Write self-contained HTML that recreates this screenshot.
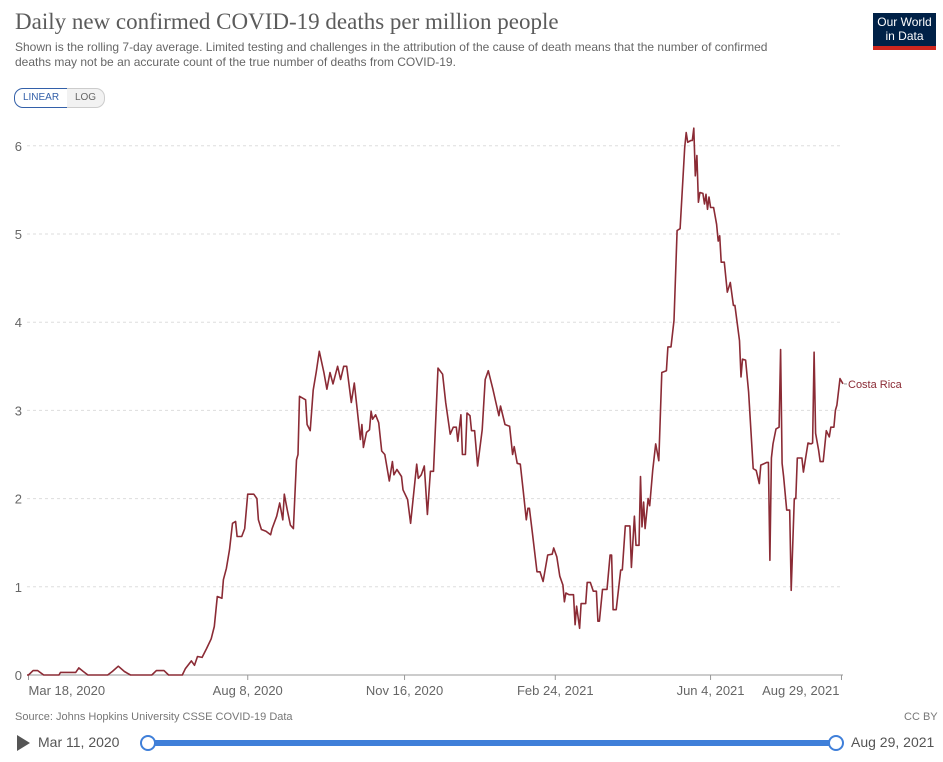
<!DOCTYPE html>
<html><head><meta charset="utf-8">
<style>
body{margin:0;background:#fff;font-family:"Liberation Sans",sans-serif;}
#wrap{position:relative;width:943px;height:762px;overflow:hidden;}
.t{position:absolute;white-space:nowrap;}
</style></head>
<body>
<div id="wrap">
<div class="t" style="left:15px;top:9px;font-family:'Liberation Serif',serif;font-size:23px;color:#5b5b5b;">Daily new confirmed COVID-19 deaths per million people</div>
<div class="t" style="left:15px;top:40px;font-size:12px;line-height:15px;color:#666;white-space:normal;width:790px;">Shown is the rolling 7-day average. Limited testing and challenges in the attribution of the cause of death means that the number of confirmed deaths may not be an accurate count of the true number of deaths from COVID-19.</div>
<div style="position:absolute;left:873px;top:13px;width:63px;height:37px;background:#002147;border-bottom:4px solid #ce261e;color:#fff;font-size:12px;line-height:14px;text-align:center;padding-top:2px;box-sizing:border-box;">Our World<br>in Data</div>
<div style="position:absolute;left:14px;top:88px;width:52px;height:18px;border:1px solid #3360a9;border-radius:9px 0 0 9px;font-size:10px;color:#3360a9;text-align:center;line-height:18px;">LINEAR</div>
<div style="position:absolute;left:67px;top:88px;width:37px;height:18px;border:1px solid #ccc;border-left:none;border-radius:0 9px 9px 0;font-size:10px;color:#666;text-align:center;line-height:18px;background:#f2f2f2;">LOG</div>
<svg id="chart" width="943" height="762" style="position:absolute;left:0;top:0;"></svg>
<div class="t" style="left:15px;top:711px;font-size:11px;color:#777;">Source: Johns Hopkins University CSSE COVID-19 Data</div>
<div class="t" style="left:904px;top:711px;font-size:11px;color:#777;">CC BY</div>
<div style="position:absolute;left:17px;top:735px;width:0;height:0;border-top:8px solid transparent;border-bottom:8px solid transparent;border-left:13px solid #555;"></div>
<div class="t" style="left:38px;top:734px;font-size:14px;color:#555;">Mar 11, 2020</div>
<div style="position:absolute;left:148px;top:740px;width:688px;height:6px;background:#3f7fd9;"></div>
<div style="position:absolute;left:140px;top:735px;width:12px;height:12px;border:2px solid #3f7fd9;border-radius:50%;background:#fff;"></div>
<div style="position:absolute;left:828px;top:735px;width:12px;height:12px;border:2px solid #3f7fd9;border-radius:50%;background:#fff;"></div>
<div class="t" style="left:851px;top:734px;font-size:14px;color:#555;">Aug 29, 2021</div>
</div>
<script>
const days=[0,1,4,7,11,21,22,32,34,37,40,53,56,60,64,68,82,85,90,93,102,104,108,110,112,115,118,121,123,125,128,129,131,133,135,137,138,141,143,145,149,151,152,154,157,160,161,164,166,168,169,171,173,175,177,178,179,183,184,186,188,190,192,195,197,199,201,204,206,208,210,213,215,217,219,220,221,223,225,226,227,229,231,233,235,238,240,241,243,246,247,250,252,256,257,259,261,263,265,267,270,273,275,278,280,282,283,285,286,288,289,291,292,294,296,299,301,303,306,308,310,311,314,317,319,320,322,324,326,328,329,330,332,335,337,339,342,345,346,348,350,352,353,354,356,359,360,361,363,364,367,368,370,372,374,375,376,378,381,383,384,385,387,390,391,393,396,397,399,400,402,403,404,405,406,408,409,411,413,415,417,420,421,423,425,427,429,432,433,434,436,437,438,439,440,441,442,444,445,446,447,448,449,451,453,454,455,456,458,460,462,464,465,468,469,470,472,474,477,479,481,482,486,487,488,489,490,492,494,495,496,497,499,501,502,504,505,506,509,510,513,515,516,517,518,520,521,523,525,527,528,530,531,532,534,536];
const deaths=[0,0,.05,.05,0,0,.03,.03,.08,.04,0,0,.04,.1,.04,0,0,.05,.05,0,0,.07,.16,.11,.21,.2,.3,.41,.55,.89,.87,1.08,1.21,1.42,1.72,1.74,1.57,1.57,1.66,2.05,2.05,2.0,1.76,1.65,1.63,1.59,1.66,1.8,1.95,1.76,2.05,1.87,1.7,1.66,2.44,2.5,3.16,3.12,2.84,2.77,3.23,3.44,3.67,3.43,3.24,3.43,3.3,3.5,3.35,3.5,3.5,3.09,3.31,2.99,2.67,2.84,2.58,2.75,2.78,2.99,2.9,2.95,2.86,2.54,2.5,2.2,2.42,2.27,2.33,2.25,2.1,1.99,1.72,2.39,2.23,2.27,2.37,1.82,2.31,2.31,3.48,3.41,3.09,2.73,2.81,2.81,2.65,2.95,2.5,2.5,2.97,2.94,2.77,2.77,2.37,2.78,3.35,3.45,3.24,3.09,2.94,3.05,2.84,2.82,2.5,2.59,2.4,2.39,2.08,1.76,1.89,1.89,1.61,1.17,1.17,1.06,1.36,1.37,1.44,1.34,1.12,1.02,.83,.93,.91,.91,.57,.78,.53,.81,.81,1.05,1.05,.95,.95,.61,.61,.97,.97,1.36,1.36,.74,.74,1.19,1.19,1.69,1.69,1.22,1.8,1.47,1.47,2.25,1.68,1.96,1.66,2.0,1.92,2.32,2.62,2.43,3.43,3.45,3.72,3.72,4.02,5.04,5.06,5.98,6.15,6.04,6.06,6.06,6.2,5.66,5.89,5.36,5.47,5.46,5.34,5.45,5.28,5.42,5.3,5.3,5.11,4.92,4.98,4.68,4.68,4.34,4.45,4.19,4.19,3.79,3.38,3.58,3.57,3.21,2.34,2.32,2.17,2.38,2.41,2.41,1.3,2.46,2.62,2.79,2.81,3.69,2.4,2.25,1.87,1.87,.96,2.0,2.0,2.46,2.46,2.3,2.63,2.62,2.63,3.66,2.74,2.55,2.42,2.42,2.77,2.7,2.81,2.81,3.0,3.06,3.36,3.3];
const yTicks=[0,1,2,3,4,5,6];
const xTickDays=[1,145,248,347,449,535];
const xTickLabels=["Mar 18, 2020","Aug 8, 2020","Nov 16, 2020","Feb 24, 2021","Jun 4, 2021","Aug 29, 2021"];
const seriesName="Costa Rica";

const NS="http://www.w3.org/2000/svg";
const svg=document.getElementById('chart');
const X0=27,X1=843,Y0=675,YU=88.2;
function xs(d){return X0+(X1-X0)*d/536;}
function ys(v){return Y0-v*YU;}
function mk(tag,attrs){const e=document.createElementNS(NS,tag);for(const k in attrs)e.setAttribute(k,attrs[k]);svg.appendChild(e);return e;}
yTicks.forEach(v=>{
  if(v>0){const g=mk('line',{x1:X0,x2:X1,y1:ys(v),y2:ys(v),stroke:'#ddd','stroke-dasharray':'3,3'});
  
  }
  const t=mk('text',{x:22,y:ys(v)+5,'text-anchor':'end','font-size':13,fill:'#666','font-family':'Liberation Sans, sans-serif'});
  t.textContent=v;
  
  
});
const ax=mk('line',{x1:X0,x2:X1,y1:Y0,y2:Y0,stroke:'#999'});


xTickDays.forEach((d,i)=>{
  const tk=mk('line',{x1:xs(d),x2:xs(d),y1:Y0,y2:Y0+5,stroke:'#999'});
  
  
  const anchor=i===0?'start':(i===xTickDays.length-1?'end':'middle');
  const t=mk('text',{x:i===0?xs(d):(i===xTickDays.length-1?xs(d)-2:xs(d)),y:Y0+20,'text-anchor':anchor,'font-size':13,fill:'#666','font-family':'Liberation Sans, sans-serif'});
  t.textContent=xTickLabels[i];
  
  
});
const pts=days.map((d,i)=>xs(d).toFixed(1)+','+ys(deaths[i]).toFixed(1)).join(' ');
const line=mk('polyline',{points:pts,fill:'none',stroke:'#8b2b35','stroke-width':1.6,'stroke-linejoin':'round'});


const lastY=ys(deaths[deaths.length-1]);
const conn=mk('line',{x1:xs(536)+1,x2:xs(536)+4,y1:lastY,y2:lastY,stroke:'#999'});


const lb=mk('text',{x:848,y:lastY+4,'font-size':11,fill:'#8b2b35','font-family':'Liberation Sans, sans-serif'});
lb.textContent=seriesName;


</script>
</body></html>
